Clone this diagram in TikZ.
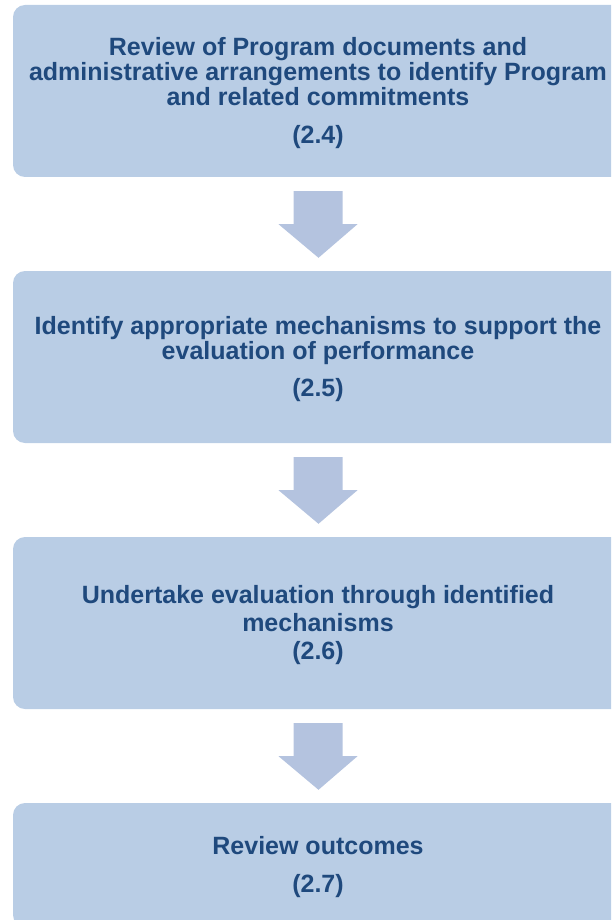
\documentclass[tikz,border=0pt]{standalone}
\usepackage{fontspec}
\setmainfont{Liberation Sans}
\usetikzlibrary{calc}
\definecolor{boxc}{HTML}{B9CDE5}
\definecolor{arrc}{HTML}{B4C3DF}
\definecolor{txtc}{HTML}{1F497D}
\begin{document}
\begin{tikzpicture}[x=1pt,y=-1pt,
  stepbox/.style={fill=boxc, draw=none, rounded corners=12pt, minimum width=610pt,
    inner sep=0pt, align=center, text=txtc, text depth=0.5pt,
    font=\fontsize{25}{25}\selectfont\bfseries},
  blockarrow/.style={fill=arrc, draw=none}]
\useasboundingbox (0,0) rectangle (611,920);
\clip (0,0) rectangle (611,920);
\node[stepbox, minimum height=172pt] (b1) at (318,91)
  {Review of Program documents and\\administrative arrangements to identify Program\\and related commitments\\[13pt](2.4)};
\node[stepbox, minimum height=172pt] (b2) at (318,357)
  {Identify appropriate mechanisms to support the\\evaluation of performance\\[12pt](2.5)};
\node[stepbox, minimum height=172pt, font=\fontsize{25}{28}\selectfont\bfseries] (b3) at (318,623)
  {Undertake evaluation through identified\\mechanisms\\(2.6)};
\node[stepbox, minimum height=124pt] (b4) at (318,865)
  {Review outcomes\\[13pt](2.7)};
\foreach \a/\b in {b1/b2, b2/b3, b3/b4}{
  \fill[blockarrow] ($(\a.south)+(-24.5,14)$) -- ++(49,0) -- ++(0,33) -- ++(15,0)
    -- ($(\b.north)+(0.5,-13)$) -- ($(\a.south)+(-39.5,47)$) -- ++(15,0) -- cycle;
}
\end{tikzpicture}
\end{document}
